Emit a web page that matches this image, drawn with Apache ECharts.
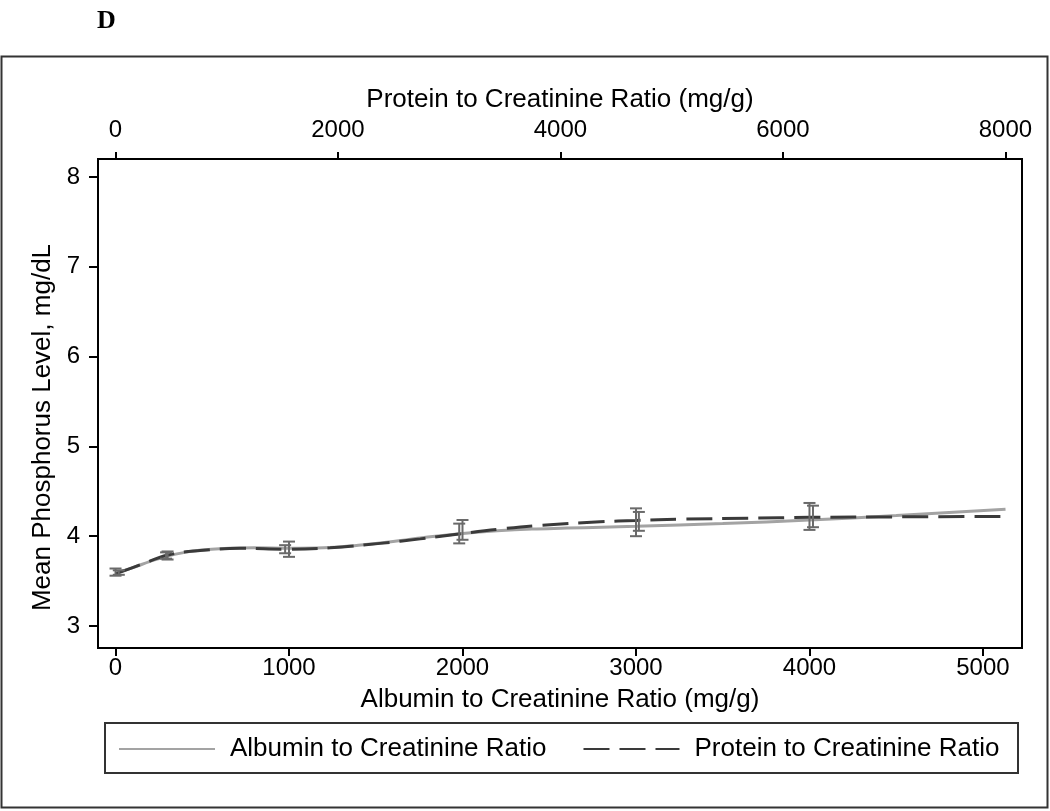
<!DOCTYPE html>
<html><head><meta charset="utf-8">
<script src="https://cdn.jsdelivr.net/npm/echarts@6/dist/echarts.min.js"></script>
<style>html,body{margin:0;padding:0;background:#fff}#c{width:1050px;height:811px}</style>
</head><body><div id="c"></div>
<script>
// Albumin to Creatinine Ratio curve (bottom axis, mg/g)
const albX = [0, 100, 200, 300, 400, 500, 600, 800, 1000, 1200, 1400, 1600, 1800, 2000, 2200, 2400, 2600, 2800, 3000, 3500, 4000, 4500, 5130];
const albY = [3.59, 3.65, 3.72, 3.78, 3.82, 3.845, 3.86, 3.87, 3.865, 3.87, 3.9, 3.94, 3.99, 4.03, 4.06, 4.08, 4.09, 4.1, 4.11, 4.14, 4.18, 4.23, 4.30];
// Protein to Creatinine Ratio curve (top axis, mg/g)
const protX = [0, 220, 470, 760, 1120, 1550, 1930, 2380, 2740, 3115, 3460, 3815, 4355, 4680, 5075, 5700, 6245, 7050, 8000];
const protY = [3.58, 3.68, 3.79, 3.84, 3.865, 3.855, 3.87, 3.92, 3.97, 4.03, 4.08, 4.12, 4.16, 4.175, 4.19, 4.2, 4.21, 4.215, 4.22];
// 95% CI error bars
const albBarX = [0, 300, 1000, 2000, 3000, 4000];
const albBarLo = [3.56, 3.74, 3.77, 3.96, 4.00, 4.07];
const albBarHi = [3.64, 3.83, 3.94, 4.18, 4.31, 4.37];
const protBarX = [30, 455, 1525, 3090, 4705, 6270];
const protBarLo = [3.57, 3.75, 3.81, 3.92, 4.06, 4.10];
const protBarHi = [3.62, 3.82, 3.90, 4.14, 4.27, 4.34];
// tick labels
const albTicks = [0, 1000, 2000, 3000, 4000, 5000];
const protTicks = [0, 2000, 4000, 6000, 8000];
const yTicks = [3, 4, 5, 6, 7, 8];

const FONT = "'Liberation Sans', Arial, Helvetica, sans-serif";
const zip = (a, b) => a.map((v, i) => [v, b[i]]);
const zip3 = (a, b, c) => a.map((v, i) => [v, b[i], c[i]]);
const plain = v => String(v);

function errRender(params, api) {
  const x = api.value(0), lo = api.value(1), hi = api.value(2);
  const pLo = api.coord([x, lo]), pHi = api.coord([x, hi]);
  const w = 6;
  const st = { stroke: '#6a6a6a', lineWidth: 2 };
  return { type: 'group', children: [
    { type: 'line', shape: { x1: pLo[0], y1: pLo[1], x2: pHi[0], y2: pHi[1] }, style: st },
    { type: 'line', shape: { x1: pLo[0] - w, y1: pLo[1], x2: pLo[0] + w, y2: pLo[1] }, style: st },
    { type: 'line', shape: { x1: pHi[0] - w, y1: pHi[1], x2: pHi[0] + w, y2: pHi[1] }, style: st }
  ]};
}

const chart = echarts.init(document.getElementById('c'), null, { renderer: 'canvas' });
const labelStyle = { color: '#000', fontFamily: FONT, fontSize: 24 };
const nameStyle = { color: '#000', fontFamily: FONT, fontSize: 26 };
chart.setOption({
  animation: false,
  backgroundColor: '#fff',
  textStyle: { fontFamily: FONT },
  graphic: [
    { type: 'rect', shape: { x: 1.5, y: 56.5, width: 1046, height: 751 }, style: { fill: 'none', stroke: '#333', lineWidth: 2 }, z: 0 },
    { type: 'rect', shape: { x: 105, y: 723, width: 913, height: 50 }, style: { fill: 'none', stroke: '#333', lineWidth: 2 }, z: 0 },
    { type: 'text', left: 97, top: 8, style: { text: 'D', font: "bold 26px 'Liberation Serif', 'Times New Roman', serif", fill: '#000' } }
  ],
  grid: { left: 98, top: 159, right: 28, bottom: 163, show: true, borderColor: '#000', borderWidth: 2, backgroundColor: '#fff' },
  legend: {
    data: ['Albumin to Creatinine Ratio', 'Protein to Creatinine Ratio'],
    left: 113, top: 731, itemWidth: 96, itemHeight: 14, itemGap: 36,
    itemStyle: { color: 'transparent', borderWidth: 0, opacity: 0 },
    textStyle: { color: '#000', fontFamily: FONT, fontSize: 26, padding: [0, 0, 0, 10] }
  },
  xAxis: [
    {
      type: 'value', position: 'bottom', min: -101, max: 5225,
      name: 'Albumin to Creatinine Ratio (mg/g)', nameLocation: 'middle', nameGap: 39, nameTextStyle: nameStyle,
      axisLine: { show: false, onZero: false }, splitLine: { show: false },
      axisTick: { show: true, length: 8, lineStyle: { color: '#000', width: 2 }, customValues: albTicks },
      axisLabel: { ...labelStyle, margin: 8, formatter: plain, customValues: albTicks }
    },
    {
      type: 'value', position: 'top', min: -157, max: 8149,
      name: 'Protein to Creatinine Ratio (mg/g)', nameLocation: 'middle', nameGap: 45, nameTextStyle: nameStyle,
      axisLine: { show: false, onZero: false }, splitLine: { show: false },
      axisTick: { show: true, length: 7, lineStyle: { color: '#000', width: 2 }, customValues: protTicks },
      axisLabel: { ...labelStyle, margin: 17, formatter: plain, customValues: protTicks }
    }
  ],
  yAxis: {
    type: 'value', min: 2.755, max: 8.2,
    name: 'Mean Phosphorus Level, mg/dL', nameLocation: 'middle', nameGap: 40,
    nameTextStyle: { ...nameStyle, padding: [0, 48, 0, 0] },
    axisLine: { show: false, onZero: false }, splitLine: { show: false },
    axisTick: { show: true, length: 9, lineStyle: { color: '#000', width: 2 }, customValues: yTicks },
    axisLabel: { ...labelStyle, margin: 18, formatter: plain, customValues: yTicks }
  },
  series: [
    {
      name: 'Albumin to Creatinine Ratio', type: 'line', xAxisIndex: 0, yAxisIndex: 0,
      data: zip(albX, albY), smooth: 0.4, symbol: 'none', showSymbol: false,
      itemStyle: { color: '#a3a3a3' }, lineStyle: { color: '#a3a3a3', width: 3 }, z: 2
    },
    {
      name: 'Protein to Creatinine Ratio', type: 'line', xAxisIndex: 1, yAxisIndex: 0,
      data: zip(protX, protY), smooth: 0.4, symbol: 'none', showSymbol: false,
      itemStyle: { color: '#3a3a3a' }, lineStyle: { color: '#3a3a3a', width: 3, type: [26, 10] }, z: 3
    },
    { name: 'albErr', type: 'custom', xAxisIndex: 0, yAxisIndex: 0, data: zip3(albBarX, albBarLo, albBarHi), renderItem: errRender, z: 4 },
    { name: 'protErr', type: 'custom', xAxisIndex: 1, yAxisIndex: 0, data: zip3(protBarX, protBarLo, protBarHi), renderItem: errRender, z: 4 }
  ]
});
</script></body></html>
